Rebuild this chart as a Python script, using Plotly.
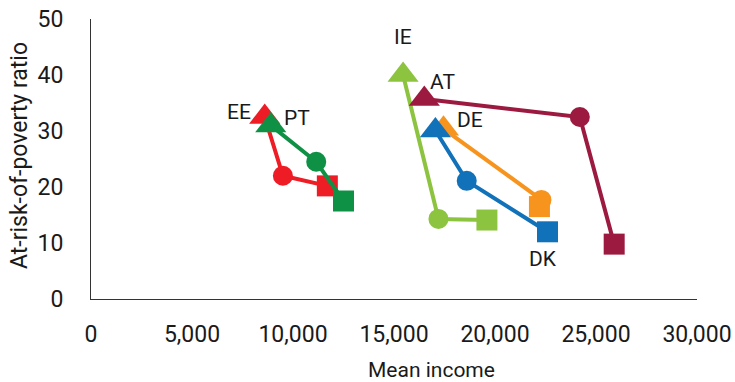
import plotly.graph_objects as go

# Country series: first point (triangle), second (circle), third (square)
countries = ["EE", "PT", "IE", "AT", "DE", "DK"]
colors = ["#EE1C25", "#0F9145", "#8DC43F", "#9C1A40", "#F7941E", "#1172BA"]

ee_x = [8600, 9500, 11700]
ee_y = [32.5, 22.0, 20.2]
pt_x = [8900, 11150, 12500]
pt_y = [31.0, 24.5, 17.5]
ie_x = [15450, 17200, 19600]
ie_y = [40.0, 14.3, 14.1]
at_x = [16500, 24200, 25900]
at_y = [35.7, 32.5, 9.8]
de_x = [17450, 22300, 22200]
de_y = [30.4, 17.7, 16.5]
dk_x = [17050, 18600, 22600]
dk_y = [30.1, 21.1, 12.0]

xs = [ee_x, pt_x, ie_x, at_x, de_x, dk_x]
ys = [ee_y, pt_y, ie_y, at_y, de_y, dk_y]

x_ticks = [0, 5000, 10000, 15000, 20000, 25000, 30000]
y_ticks = [0, 10, 20, 30, 40, 50]

# label anchor point index and pixel offsets (style only)
label_anchor = [0, 0, 0, 0, 0, 2]
label_shift = [(-26, 5), (26, 7), (0, 38), (18, 17), (27, 9), (-5, -27)]

FONT = "Roboto"
TXT = "#1a1a1a"

fig = go.Figure()
draw_order = [0, 1, 2, 4, 5, 3]
for i in draw_order:
    fig.add_trace(go.Scatter(
        x=xs[i], y=ys[i], mode="lines+markers", name=countries[i],
        line=dict(color=colors[i], width=4),
        marker=dict(symbol=["triangle-up", "circle", "square"],
                    size=[27, 20, 21], color=colors[i], opacity=1,
                    line=dict(width=0)),
        showlegend=False, hoverinfo="skip",
    ))

for i, c in enumerate(countries):
    k = label_anchor[i]
    dx, dy = label_shift[i]
    fig.add_annotation(x=xs[i][k], y=ys[i][k], text=c, showarrow=False,
                       xshift=dx, yshift=dy, xanchor="center", yanchor="middle",
                       font=dict(family=FONT, size=21, color=TXT))

fig.add_annotation(xref="paper", yref="paper", x=0.5627, y=-0.255,
                   text="Mean income", showarrow=False,
                   xanchor="center", yanchor="middle",
                   font=dict(family=FONT, size=21, color=TXT))
fig.add_annotation(xref="paper", yref="paper", x=-0.117, y=0.511,
                   text="At-risk-of-poverty ratio", showarrow=False, textangle=-90,
                   xanchor="center", yanchor="middle",
                   font=dict(family=FONT, size=23, color=TXT))

fig.update_layout(
    width=735, height=382,
    margin=dict(l=91, r=38, t=19, b=83),
    paper_bgcolor="white", plot_bgcolor="white",
    font=dict(family=FONT, size=21, color=TXT),
    xaxis=dict(range=[0, 30000], tickvals=x_ticks,
               ticktext=[f"{v:,}" for v in x_ticks],
               showgrid=False, zeroline=False, showline=True,
               linecolor="#333333", linewidth=1, ticks="",
               automargin=False, ticklabeloverflow="allow",
               ticklabelstandoff=14, tickfont=dict(size=23)),
    yaxis=dict(range=[0, 50], tickvals=y_ticks,
               showgrid=False, zeroline=False, showline=True,
               linecolor="#333333", linewidth=1, ticks="",
               automargin=False, ticklabeloverflow="allow",
               ticklabelstandoff=22, tickfont=dict(size=23)),
)

fig.write_html("out.html",
               config={"displayModeBar": False},
               post_script="document.body.style.margin='0';document.body.style.overflow='hidden';")
